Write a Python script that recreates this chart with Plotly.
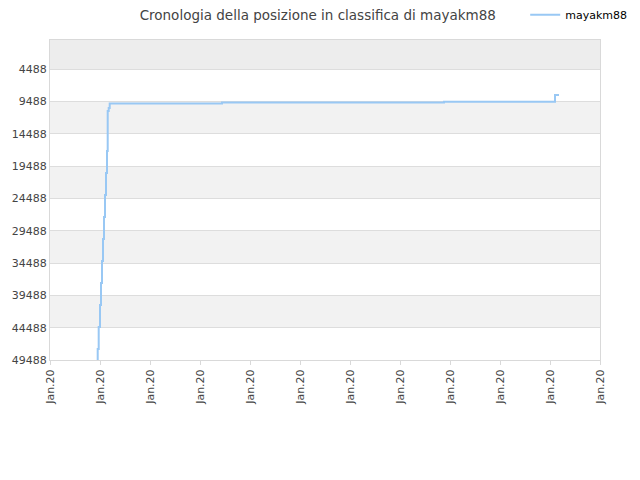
import plotly.graph_objects as go

# Ranking history of mayakm88 (x in tick units, rank values)
x_pos = [0.954, 0.974, 1.0, 1.02, 1.04, 1.06, 1.08, 1.10, 1.12, 1.14,
         1.154, 1.174, 1.194, 3.44, 7.88, 10.1, 10.18]
rank = [49488, 47787, 44385, 40982, 37580, 34178, 30775, 27373, 23971, 20568,
        17166, 10980, 10516, 9820, 9665, 9557, 8500]

x_ticks = list(range(12))
x_labels = ["Jan.20"] * 12
y_ticks = [4488, 9488, 14488, 19488, 24488, 29488, 34488, 39488, 44488, 49488]
y_labels = [str(v) for v in y_ticks]

fig = go.Figure()

# Alternating horizontal bands between gridlines
band_edges = [0] + y_ticks
for i in range(len(band_edges) - 1):
    if i % 2 == 1:
        continue
    fig.add_shape(
        type="rect", xref="paper", yref="y",
        x0=0, x1=1, y0=band_edges[i], y1=band_edges[i + 1],
        fillcolor="#ededed" if i == 0 else "#f2f2f2",
        line_width=0, layer="below",
    )

fig.add_trace(go.Scatter(
    x=x_pos, y=rank,
    mode="lines",
    line=dict(color="#99c8f4", width=2, shape="vh"),
    name="mayakm88",
))

# the page body adds an 8px offset, so margins are shifted to compensate
fig.update_layout(
    width=640, height=480,
    margin=dict(l=42, r=48, t=32, b=128, autoexpand=False),
    paper_bgcolor="white",
    plot_bgcolor="white",
    font=dict(family="DejaVu Sans", size=11, color="#444"),
    title=dict(
        text="Cronologia della posizione in classifica di mayakm88",
        x=0.484, xanchor="center", yref="container", y=0.994, yanchor="top",
        font=dict(size=13.5, color="#444"),
    ),
    showlegend=True,
    legend=dict(
        x=0.864, xanchor="left", y=1.124, yanchor="top",
        font=dict(size=11, color="#000"),
        bgcolor="rgba(0,0,0,0)",
    ),
    xaxis=dict(
        range=[0, 11],
        tickvals=x_ticks, ticktext=x_labels,
        tickangle=-90,
        showgrid=False, zeroline=False,
        showline=True, linecolor="#d9d9d9", mirror=True,
        ticks="outside", ticklen=4, tickcolor="#d9d9d9",
        automargin=False,
    ),
    yaxis=dict(
        range=[49488, 0],
        tickvals=y_ticks, ticktext=y_labels,
        showgrid=True, gridcolor="#dddddd",
        zeroline=False,
        showline=True, linecolor="#d9d9d9", mirror=True,
        automargin=False,
    ),
)

fig.write_html("out.html")
